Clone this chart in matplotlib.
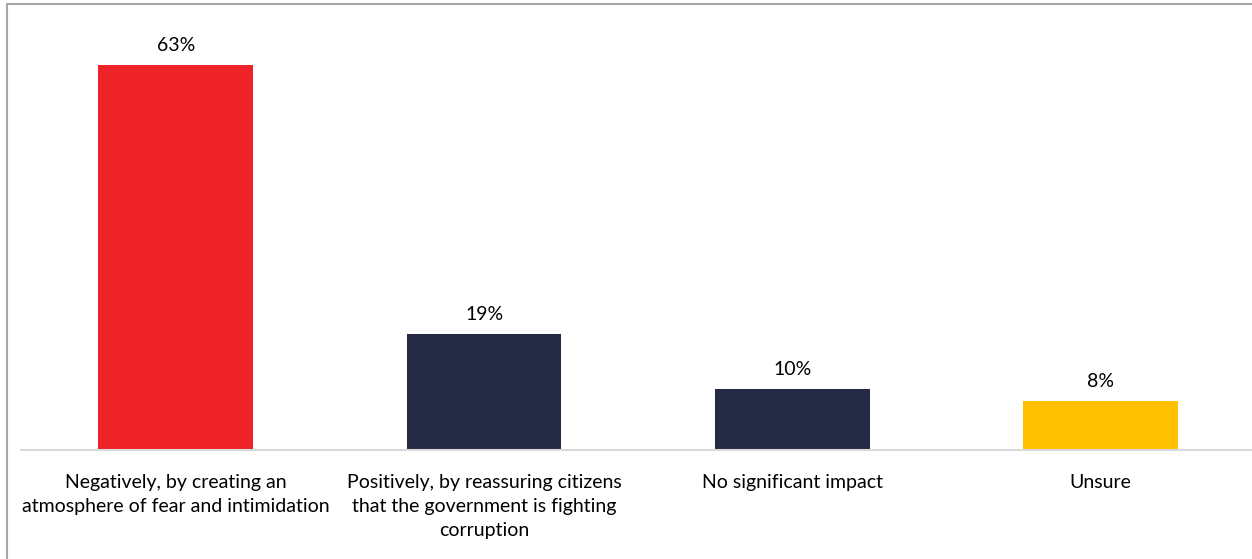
import matplotlib.pyplot as plt
from matplotlib.patches import Rectangle

categories = ["Negatively, by creating an\natmosphere of fear and intimidation",
              "Positively, by reassuring citizens\nthat the government is fighting\ncorruption",
              "No significant impact",
              "Unsure"]
values = [63, 19, 10, 8]
colors = ["#EE2229", "#252A44", "#252A44", "#FFC000"]

plt.rcParams['font.family'] = ['Lato', 'DejaVu Sans']

fig = plt.figure(figsize=(12.52, 5.59), dpi=100)
ax = fig.add_axes([0.01717, 0.195, 0.9852, 0.765])

x = range(len(values))
bars = ax.bar(x, values, width=0.502, color=colors)
for b, v in zip(bars, values):
    ax.annotate(f"{v}%", (b.get_x() + b.get_width() / 2, v), xytext=(0, 8),
                textcoords="offset points", ha="center", va="bottom",
                fontsize=14, color="black")

ax.set_xlim(-0.5, 3.5)
ax.set_ylim(0, 70)
ax.set_yticks([])
ax.set_xticks(list(x))
ax.set_xticklabels(categories, fontsize=14, linespacing=1.5)
ax.tick_params(axis="x", length=0, pad=17)
for s in ["top", "right", "left"]:
    ax.spines[s].set_visible(False)
ax.spines["bottom"].set_color("#D9D9D9")
ax.spines["bottom"].set_linewidth(1.5)

# outer frame
fig.patches.append(Rectangle((6.5 / 1252, -0.1), 1.2, (555 + 56) / 559,
                             transform=fig.transFigure, fill=False,
                             edgecolor="#A6A6A6", linewidth=1.5))

fig.savefig("out.png", dpi=100)
